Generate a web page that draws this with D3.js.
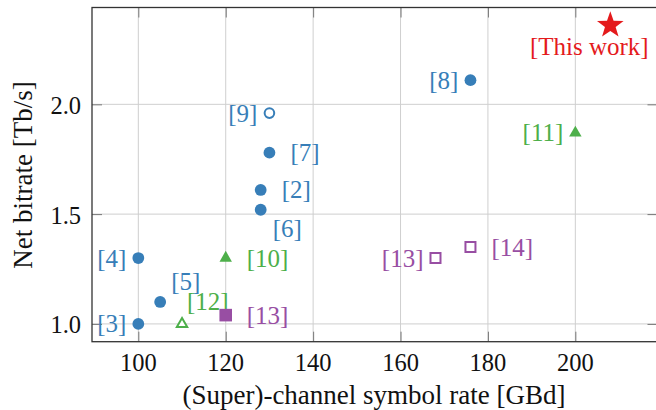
<!DOCTYPE html>
<html>
<head>
<meta charset="utf-8">
<script src="https://cdn.jsdelivr.net/npm/d3@7"></script>
<style>
  body { margin: 0; background: #fff; }
  text { font-family: "Liberation Serif", "Times New Roman", serif; }
</style>
</head>
<body>
<div id="chart"></div>
<script>
// data (x: symbol rate in GBd, y: net bitrate in Tb/s)
var blueRefs = ["[8]", "[7]", "[2]", "[6]", "[4]", "[5]", "[3]"];
var blueRate = [176, 130, 128, 128, 100, 105, 100];
var blueBitrate = [2.11, 1.78, 1.61, 1.52, 1.30, 1.10, 1.00];

var blueOpenRefs = ["[9]"];
var blueOpenRate = [130];
var blueOpenBitrate = [1.96];

var greenRefs = ["[11]", "[10]"];
var greenRate = [200, 120];
var greenBitrate = [1.87, 1.30];

var greenOpenRefs = ["[12]"];
var greenOpenRate = [110];
var greenOpenBitrate = [1.00];

var purpleRefs = ["[13]"];
var purpleRate = [120];
var purpleBitrate = [1.04];

var purpleOpenRefs = ["[13]", "[14]"];
var purpleOpenRate = [168, 176];
var purpleOpenBitrate = [1.30, 1.35];

var thisRefs = ["[This work]"];
var thisRate = [208];
var thisBitrate = [2.36];

var xTicks = [100, 120, 140, 160, 180, 200];
var yTicks = [1.0, 1.5, 2.0];

// set the dimensions of the graph
var width = 656, height = 410;
var plotL = 92, plotR = 657.5, plotT = 7.5, plotB = 341.7;

var svg = d3.select("#chart")
    .append("svg")
    .attr("width", width)
    .attr("height", height);

var x = d3.scaleLinear().domain([89.4, 218.8]).range([plotL, plotR]);
var y = d3.scaleLinear().domain([0.919, 2.441]).range([plotB, plotT]);

// grid
svg.append("g").selectAll("line")
    .data(xTicks).enter().append("line")
    .attr("x1", function(d) { return x(d); })
    .attr("x2", function(d) { return x(d); })
    .attr("y1", plotT).attr("y2", plotB)
    .attr("stroke", "#cfcfcf").attr("stroke-width", 1);
svg.append("g").selectAll("line")
    .data(yTicks).enter().append("line")
    .attr("x1", plotL).attr("x2", plotR)
    .attr("y1", function(d) { return y(d); })
    .attr("y2", function(d) { return y(d); })
    .attr("stroke", "#cfcfcf").attr("stroke-width", 1);

// axes (ticks inside, on all four sides)
var tickLen = 10;
function tickStyle(g) {
    g.select(".domain").remove();
    g.selectAll("line").attr("stroke", "#777");
}
svg.append("g")
    .attr("transform", "translate(0," + plotB + ")")
    .call(d3.axisTop(x).tickValues(xTicks).tickSize(tickLen).tickFormat(""))
    .call(tickStyle);
svg.append("g")
    .attr("transform", "translate(0," + plotT + ")")
    .call(d3.axisBottom(x).tickValues(xTicks).tickSize(tickLen).tickFormat(""))
    .call(tickStyle);
svg.append("g")
    .attr("transform", "translate(" + plotL + ",0)")
    .call(d3.axisRight(y).tickValues(yTicks).tickSize(tickLen).tickFormat(""))
    .call(tickStyle);
svg.append("g")
    .attr("transform", "translate(" + plotR + ",0)")
    .call(d3.axisLeft(y).tickValues(yTicks).tickSize(tickLen).tickFormat(""))
    .call(tickStyle);

// tick labels
svg.append("g").selectAll("text")
    .data(xTicks).enter().append("text")
    .attr("x", function(d) { return x(d); })
    .attr("y", 371)
    .attr("text-anchor", "middle")
    .attr("font-size", 24.5)
    .attr("fill", "#111")
    .text(function(d) { return d; });
svg.append("g").selectAll("text")
    .data(yTicks).enter().append("text")
    .attr("x", 81)
    .attr("y", function(d) { return y(d) + 9.5; })
    .attr("text-anchor", "end")
    .attr("font-size", 24.5)
    .attr("fill", "#111")
    .text(function(d) { return d.toFixed(1); });

// frame
svg.append("rect")
    .attr("x", plotL).attr("y", plotT)
    .attr("width", plotR - plotL).attr("height", plotB - plotT)
    .attr("fill", "none").attr("stroke", "#333").attr("stroke-width", 1.3);

// axis titles
svg.append("text")
    .attr("x", 374)
    .attr("y", 404)
    .attr("text-anchor", "middle")
    .attr("font-size", 27)
    .attr("fill", "#111")
    .text("(Super)-channel symbol rate [GBd]");
svg.append("text")
    .attr("transform", "translate(32,175) rotate(-90)")
    .attr("text-anchor", "middle")
    .attr("font-size", 27)
    .attr("fill", "#111")
    .text("Net bitrate [Tb/s]");

// marker shapes
function circlePath(r) {
    return "M" + r + ",0A" + r + "," + r + " 0 1,1 " + (-r) + ",0A" + r + "," + r + " 0 1,1 " + r + ",0Z";
}
function triPath(r) {
    return "M0," + (-r) + "L" + (r * 0.866) + "," + (r / 2) + "L" + (-r * 0.866) + "," + (r / 2) + "Z";
}
function squarePath(h) {
    return "M" + (-h) + "," + (-h) + "H" + h + "V" + h + "H" + (-h) + "Z";
}
function starPath(ro, ri) {
    var p = [];
    for (var k = 0; k < 10; k++) {
        var a = -Math.PI / 2 + k * Math.PI / 5;
        var r = k % 2 === 0 ? ro : ri;
        p.push([r * Math.cos(a), r * Math.sin(a)]);
    }
    return "M" + p.map(function(q) { return q[0].toFixed(2) + "," + q[1].toFixed(2); }).join("L") + "Z";
}

// label placement: [dx, dy, anchor]
var L = [-12, 8.5, "end"], R = [21, 8.5, "start"];

function series(refs, rate, bitrate, color, shape, open, place) {
    var data = refs.map(function(r, i) { return {ref: r, x: rate[i], y: bitrate[i], p: place[i]}; });
    var g = svg.append("g");
    var m = g.selectAll("path").data(data).enter().append("path")
        .attr("transform", function(d) { return "translate(" + x(d.x) + "," + y(d.y) + ")"; });
    if (shape === "circle") {
        m.attr("d", circlePath(open ? 4.8 : 5.9));
    } else if (shape === "triangle") {
        m.attr("d", open ? triPath(6) : triPath(7.2));
    } else if (shape === "square") {
        m.attr("d", open ? squarePath(5) : squarePath(6.3));
    } else {
        m.attr("d", starPath(14, 5.6));
    }
    if (open) {
        m.attr("fill", "#fff").attr("stroke", color).attr("stroke-width", 2);
    } else {
        m.attr("fill", color);
    }
    g.selectAll("text").data(data).enter().append("text")
        .attr("x", function(d) { return x(d.x) + d.p[0]; })
        .attr("y", function(d) { return y(d.y) + d.p[1]; })
        .attr("text-anchor", function(d) { return d.p[2]; })
        .attr("font-size", 25)
        .attr("fill", color)
        .text(function(d) { return d.ref; });
}

var blue = "#377eb8", green = "#4daf4a", purple = "#984ea3", red = "#e41a1c";

series(blueRefs, blueRate, blueBitrate, blue, "circle", false,
    [L, R, R, [12, 27.5, "start"], L, [11, -12, "start"], L]);
series(blueOpenRefs, blueOpenRate, blueOpenBitrate, blue, "circle", true, [L]);
series(greenRefs, greenRate, greenBitrate, green, "triangle", false, [L, R]);
series(greenOpenRefs, greenOpenRate, greenOpenBitrate, green, "triangle", true, [[5, -14, "start"]]);
series(purpleRefs, purpleRate, purpleBitrate, purple, "square", false, [R]);
series(purpleOpenRefs, purpleOpenRate, purpleOpenBitrate, purple, "square", true, [L, R]);
series(thisRefs, thisRate, thisBitrate, red, "star", false, [[-21, 30, "middle"]]);
</script>
</body>
</html>
